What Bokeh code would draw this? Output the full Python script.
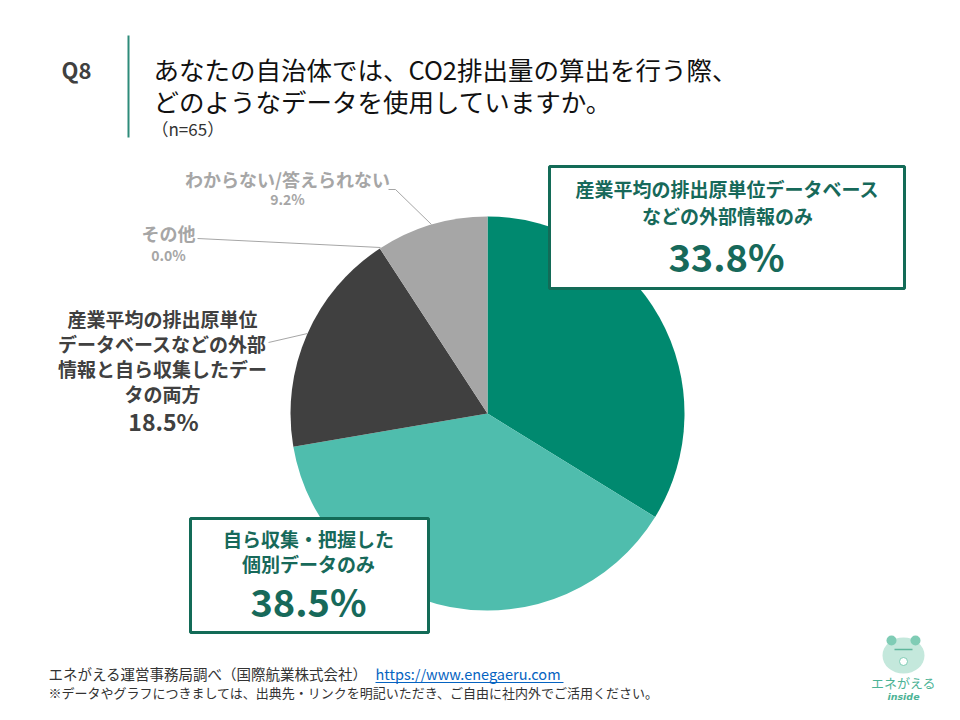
import numpy as np
from bokeh.plotting import figure
from bokeh.models import Range1d, ColumnDataSource, Label, BoxAnnotation
from bokeh.embed import file_html
from bokeh.resources import INLINE

# ---- data ----
categories = [
    "産業平均の排出原単位データベースなどの外部情報のみ",
    "自ら収集・把握した個別データのみ",
    "産業平均の排出原単位データベースなどの外部情報と自ら収集したデータの両方",
    "その他",
    "わからない/答えられない",
]
values = [33.8, 38.5, 18.5, 0.0, 9.2]
colors = ["#00896F", "#4FBDAD", "#404040", "#7F7F7F", "#A6A6A6"]

title_lines = ["あなたの自治体では、CO2排出量の算出を行う際、", "どのようなデータを使用していますか。"]
n_text = "（n=65）"

JP = "Noto Sans CJK JP"

def Y(y):
    return 720 - y

p = figure(width=944, height=704, x_range=Range1d(0, 944), y_range=Range1d(16, 720),
           output_backend="svg", toolbar_location=None, min_border=0)
p.axis.visible = False
p.grid.visible = False
p.outline_line_color = None
p.background_fill_color = "white"
p.border_fill_color = "white"

# ---- pie ----
cx, cy, R = 487, Y(413), 197
vals = np.array(values)
cum = np.concatenate([[0], np.cumsum(vals)]) / vals.sum()
start = np.pi / 2 - 2 * np.pi * cum[1:]
end = np.pi / 2 - 2 * np.pi * cum[:-1]
mask = vals > 0
src = ColumnDataSource(dict(start=start[mask], end=end[mask],
                            color=[c for c, m in zip(colors, mask) if m]))
p.wedge(x=cx, y=cy, radius=R, start_angle="start", end_angle="end",
        direction="anticlock", fill_color="color", line_color=None, source=src)

# ---- title ----
p.add_layout(Label(x=61, y=Y(68), text="Q8", text_font=JP, text_font_size="22px",
                   text_color="#404040", text_font_style="bold", text_baseline="middle"))
p.line([128, 128], [Y(35), Y(137)], line_color="#2E8B7A", line_width=2)
for i, t in enumerate(title_lines):
    p.add_layout(Label(x=153, y=Y(68 + 32 * i), text=t, text_font=JP, text_font_size="25.5px",
                       text_color="#111111", text_baseline="middle"))
p.add_layout(Label(x=151, y=Y(128), text=n_text, text_font=JP, text_font_size="17px",
                   text_color="#333333", text_baseline="middle"))

def pct(v):
    return f"{v:.1f}%"

# ---- outside labels ----
gray = "#A6A6A6"
p.add_layout(Label(x=287, y=Y(178), text=categories[4], text_font=JP, text_font_size="18px",
                   text_color=gray, text_font_style="bold", text_align="center", text_baseline="middle"))
p.add_layout(Label(x=287, y=Y(198), text=pct(values[4]), text_font=JP, text_font_size="14px",
                   text_color=gray, text_font_style="bold", text_align="center", text_baseline="middle"))
p.line([388, 395, 431], [Y(189), Y(189), Y(224)], line_color="#A6A6A6", line_width=1)

p.add_layout(Label(x=168, y=Y(232), text=categories[3], text_font=JP, text_font_size="18px",
                   text_color=gray, text_font_style="bold", text_align="center", text_baseline="middle"))
p.add_layout(Label(x=168, y=Y(254), text=pct(values[3]), text_font=JP, text_font_size="14px",
                   text_color=gray, text_font_style="bold", text_align="center", text_baseline="middle"))
p.line([197, 380], [Y(238), Y(247)], line_color="#A6A6A6", line_width=1)

dark_lines = ["産業平均の排出原単位", "データベースなどの外部", "情報と自ら収集したデー", "タの両方"]
for i, t in enumerate(dark_lines):
    p.add_layout(Label(x=162, y=Y(318 + 25 * i), text=t, text_font=JP, text_font_size="19px",
                       text_color="#404040", text_font_style="bold", text_align="center",
                       text_baseline="middle"))
p.add_layout(Label(x=163, y=Y(420), text=pct(values[2]), text_font=JP, text_font_size="23px",
                   text_color="#404040", text_font_style="bold", text_align="center", text_baseline="middle"))
p.line([268, 307], [Y(342), Y(333)], line_color="#A6A6A6", line_width=1)

# ---- boxed labels ----
box_col = "#136B57"
txt_col = "#17695A"
p.add_layout(BoxAnnotation(left=549, right=904, top=Y(166), bottom=Y(288), fill_color="white",
                           fill_alpha=1, line_color=box_col, line_alpha=1, line_width=3))
for i, t in enumerate(["産業平均の排出原単位データベース", "などの外部情報のみ"]):
    p.add_layout(Label(x=727, y=Y(188 + 27 * i), text=t, text_font=JP, text_font_size="19px",
                       text_color=txt_col, text_font_style="bold", text_align="center",
                       text_baseline="middle"))
p.add_layout(Label(x=726, y=Y(255), text=pct(values[0]), text_font=JP, text_font_size="38px",
                   text_color=txt_col, text_font_style="bold", text_align="center", text_baseline="middle"))

p.add_layout(BoxAnnotation(left=190, right=428, top=Y(518), bottom=Y(632), fill_color="white",
                           fill_alpha=1, line_color=box_col, line_alpha=1, line_width=3))
for i, t in enumerate(["自ら収集・把握した", "個別データのみ"]):
    p.add_layout(Label(x=308, y=Y(538 + 25 * i), text=t, text_font=JP, text_font_size="19px",
                       text_color=txt_col, text_font_style="bold", text_align="center",
                       text_baseline="middle"))
p.add_layout(Label(x=308, y=Y(600), text=pct(values[1]), text_font=JP, text_font_size="38px",
                   text_color=txt_col, text_font_style="bold", text_align="center", text_baseline="middle"))

# ---- footer ----
p.add_layout(Label(x=48, y=Y(673), text="エネがえる運営事務局調べ（国際航業株式会社）", text_font=JP,
                   text_font_size="14.5px", text_color="#333333", text_baseline="middle"))
p.add_layout(Label(x=375, y=Y(673), text="https://www.enegaeru.com", text_font=JP,
                   text_font_size="14.5px", text_color="#0563C1", text_baseline="middle"))
p.line([375, 563], [Y(682), Y(682)], line_color="#0563C1", line_width=1)
p.add_layout(Label(x=48, y=Y(692),
                   text="※データやグラフにつきましては、出典先・リンクを明記いただき、ご自由に社内外でご活用ください。",
                   text_font=JP, text_font_size="13px", text_color="#333333", text_baseline="middle"))

# ---- logo ----
p.ellipse(x=903, y=Y(655), width=42, height=36, fill_color="#C4E8DC", line_color=None)
p.circle(x=[891, 915], y=[Y(640), Y(640)], radius=5, fill_color="#7FCCB5", line_color=None)
p.line([894, 912], [Y(649), Y(649)], line_color="#5FB79C", line_width=1.5)
p.circle(x=[903], y=[Y(661)], radius=4, fill_color="white", line_color="#7FCCB5", line_width=1)
p.add_layout(Label(x=903, y=Y(682), text="エネがえる", text_font=JP, text_font_size="13px",
                   text_color="#4DB396", text_align="center", text_baseline="middle"))
p.add_layout(Label(x=903, y=Y(696), text="inside", text_font="DejaVu Sans", text_font_size="9.5px",
                   text_color="#4DB396", text_font_style="bold italic", text_align="center",
                   text_baseline="middle"))

open("out.html", "w").write(file_html(p, INLINE))
